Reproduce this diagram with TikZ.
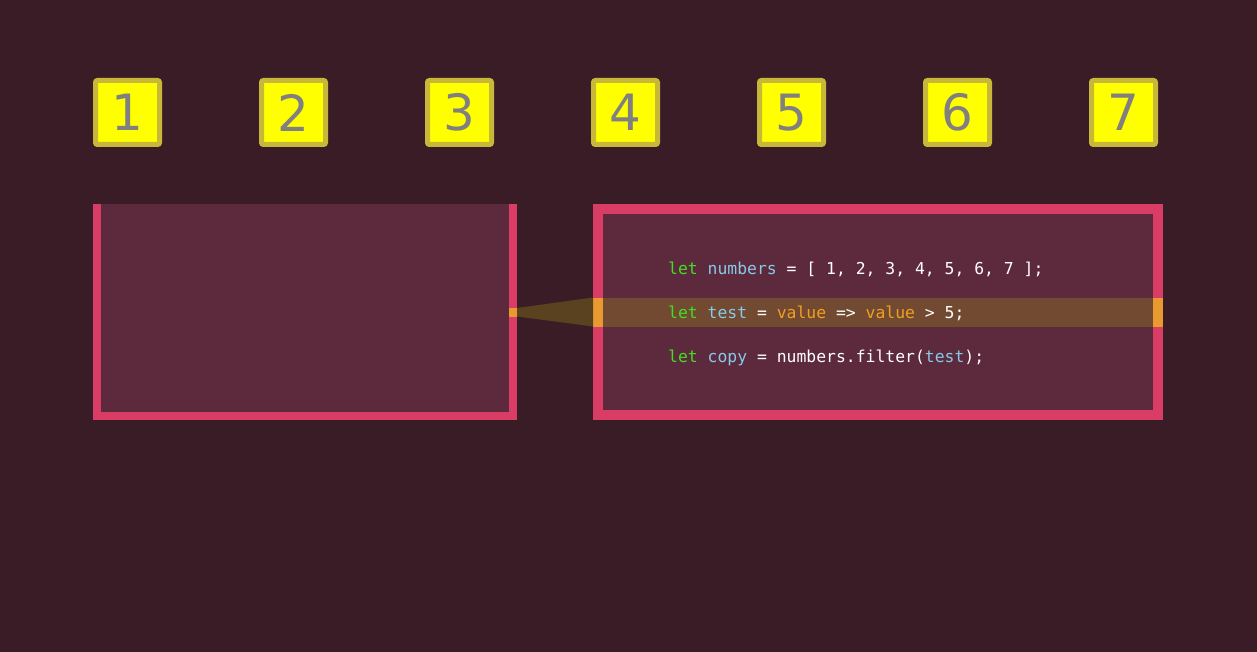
\documentclass[tikz,border=0pt]{standalone}
\usepackage{fontspec}
\setmainfont{DejaVu Sans}
\newfontfamily\codefont{DejaVu Sans Mono}
\newfontfamily\digitfont{DejaVu Sans}
\definecolor{bg}{HTML}{3A1C26}
\definecolor{boxfill}{HTML}{5C2A3C}
\definecolor{boxborder}{HTML}{D93D65}
\definecolor{sqborder}{HTML}{C8B83A}
\definecolor{sqfill}{HTML}{FFFF00}
\definecolor{digit}{HTML}{808080}
\definecolor{hlband}{HTML}{724A32}
\definecolor{hlorange}{HTML}{E89A30}
\definecolor{beam}{HTML}{5A4220}
\definecolor{kw}{HTML}{44DD22}
\definecolor{ident}{HTML}{88C8E8}
\definecolor{val}{HTML}{F0A020}
\tikzset{
  numsq/.style={draw=sqborder, fill=sqfill, line width=5pt, rounded corners=2pt,
    minimum width=64pt, minimum height=64pt, inner sep=0pt,
    text=digit, font=\digitfont\fontsize{50}{60}\selectfont},
  codeline/.style={anchor=base west, inner sep=0pt, text=white,
    font=\codefont\fontsize{16.4}{20}\selectfont}
}
\begin{document}
\begin{tikzpicture}[x=1pt,y=-1pt]
\fill[bg] (0,0) rectangle (1257,652);
\useasboundingbox (0,0) rectangle (1257,652);
% number squares
\foreach \i/\x in {1/127.5,2/293.5,3/459.5,4/625.5,5/791.5,6/957.5,7/1123.5}
  \node[numsq] (s\i) at (\x,112.5) {\raisebox{-1.5pt}{\i}};
% left box
\fill[boxfill] (93,204) rectangle (517,420);
\fill[boxborder] (93,204) rectangle (101,420);
\fill[boxborder] (509,204) rectangle (517,420);
\fill[boxborder] (93,412) rectangle (517,420);
\coordinate (lt) at (517,308);
\coordinate (lb) at (517,316.5);
\fill[hlorange] (509,308) rectangle (517,316.5);
% right box
\fill[boxfill] (593,204) rectangle (1163,420);
\fill[hlband] (603,297.5) rectangle (1153,326.5);
\draw[boxborder, line width=10pt] (598,209) rectangle (1158,415);
\fill[hlorange] (593,297.5) rectangle (603,326.5);
\fill[hlorange] (1153,297.5) rectangle (1163,326.5);
\coordinate (rt) at (593,297.5);
\coordinate (rb) at (593,326.5);
% beam
\fill[beam] (lt) -- (rt) -- (rb) -- (lb) -- cycle;
% code
\node[codeline] (c1) at (668,274) {\textcolor{kw}{let} \textcolor{ident}{numbers} = [ 1, 2, 3, 4, 5, 6, 7 ];};
\node[codeline] (c2) at (668,318) {\textcolor{kw}{let} \textcolor{ident}{test} = \textcolor{val}{value} => \textcolor{val}{value} > 5;};
\node[codeline] (c3) at (668,362) {\textcolor{kw}{let} \textcolor{ident}{copy} = numbers.filter(\textcolor{ident}{test});};
\end{tikzpicture}
\end{document}
